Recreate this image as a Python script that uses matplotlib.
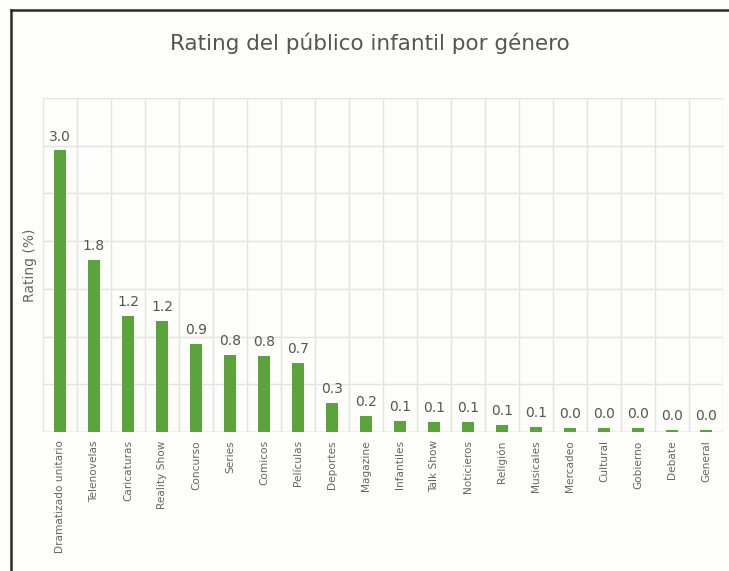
import matplotlib
matplotlib.use("Agg")
import matplotlib.pyplot as plt
from matplotlib.lines import Line2D
import numpy as np

categories = ["Dramatizado unitario", "Telenovelas", "Caricaturas", "Reality Show",
              "Concurso", "Series", "Comicos", "Películas", "Deportes", "Magazine",
              "Infantiles", "Talk Show", "Noticieros", "Religión", "Musicales",
              "Mercadeo", "Cultural", "Gobierno", "Debate", "General"]
values = [2.95, 1.80, 1.22, 1.16, 0.92, 0.81, 0.80, 0.72, 0.30, 0.17,
          0.12, 0.11, 0.11, 0.07, 0.05, 0.04, 0.04, 0.04, 0.02, 0.02]
labels = ["3.0", "1.8", "1.2", "1.2", "0.9", "0.8", "0.8", "0.7", "0.3", "0.2",
          "0.1", "0.1", "0.1", "0.1", "0.1", "0.0", "0.0", "0.0", "0.0", "0.0"]

W, H = 729, 571
fig = plt.figure(figsize=(W / 100, H / 100), dpi=100)
bg = "#fdfdf9"
fig.patch.set_facecolor(bg)

ax = fig.add_axes([43 / W, 1 - 432 / H, (723 - 43) / W, (432 - 98) / H])
ax.set_facecolor(bg)

x = np.arange(len(categories))
green = "#5ba33b"
ax.bar(x, values, width=0.36, color=green, zorder=3)

for xi, v, lab in zip(x, values, labels):
    ax.annotate(lab, (xi, v), xytext=(0, 5), textcoords="offset points",
                ha="center", va="bottom", fontsize=10, color="#555555")

ax.set_xlim(-0.5, len(categories) - 0.5)
ax.set_ylim(0, 3.5)
ax.set_yticks(np.arange(0, 3.51, 0.5))
ax.set_yticklabels([])
ax.set_xticks(x)
ax.set_xticklabels(categories, rotation=90, fontsize=7.6, color="#666666")
ax.set_xticks(np.arange(-0.5, len(categories), 1.0), minor=True)
ax.tick_params(axis="both", which="both", length=0)
ax.tick_params(axis="x", which="major", pad=6)
ax.grid(True, axis="y", which="major", color="#e3e3e3", linewidth=1, zorder=0)
ax.grid(True, axis="x", which="minor", color="#e3e3e3", linewidth=1, zorder=0)
ax.grid(False, axis="x", which="major")
for s in ax.spines.values():
    s.set_visible(False)
ax.axhline(0, color="#d0d0d0", linewidth=1, zorder=2)

ax.set_ylabel("Rating (%)", fontsize=10, color="#666666", labelpad=1)

fig.text(370 / W, 1 - 43 / H, "Rating del público infantil por género",
         ha="center", va="center", fontsize=15.5, color="#555555")

# image frame (left and top dark border)
fig.add_artist(Line2D([11 / W, 11 / W], [0, 1 - 10 / H], color="#2a2a2a", linewidth=1.8,
                      transform=fig.transFigure))
fig.add_artist(Line2D([11 / W, 1], [1 - 10 / H, 1 - 10 / H], color="#2a2a2a", linewidth=1.8,
                      transform=fig.transFigure))

fig.savefig("out.png", dpi=100, facecolor=bg)
